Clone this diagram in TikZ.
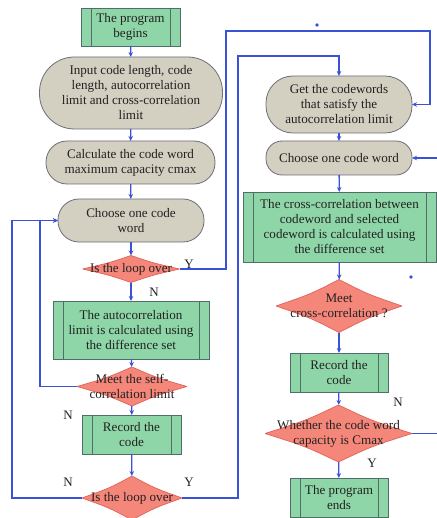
\documentclass[tikz,border=0pt]{standalone}
\usepackage{fontspec}
\setmainfont{Liberation Serif}
\usetikzlibrary{arrows.meta,calc}
\definecolor{lineblue}{HTML}{3A52D6}
\definecolor{boxgreen}{HTML}{8ED6A8}
\definecolor{boxgreenedge}{HTML}{4F6E6A}
\definecolor{tanfill}{HTML}{D3CFC1}
\definecolor{tanedge}{HTML}{6E6E78}
\definecolor{dfill}{HTML}{F5867A}
\definecolor{dedge}{HTML}{E0625A}
\definecolor{txt}{HTML}{222222}
\tikzset{
  base/.style={font=\fontsize{13.1}{15}\selectfont, text=txt, align=center, inner sep=0pt, outer sep=0pt},
  procbox/.style={base, draw=boxgreenedge, fill=boxgreen, line width=0.8pt, minimum width=#1,
    path picture={\draw[boxgreenedge,line width=0.8pt]
      ([xshift=10pt]path picture bounding box.north west) -- ([xshift=10pt]path picture bounding box.south west)
      ([xshift=-10pt]path picture bounding box.north east) -- ([xshift=-10pt]path picture bounding box.south east);}},
  tanbox/.style={base, draw=tanedge, fill=tanfill, line width=0.8pt, rounded corners=#1},
  decision/.style={base,
    path picture={
      \coordinate (pW) at (path picture bounding box.west);
      \coordinate (pE) at (path picture bounding box.east);
      \coordinate (pN) at (path picture bounding box.north);
      \coordinate (pS) at (path picture bounding box.south);
      \coordinate (pC) at (path picture bounding box.center);
      \path[fill=dfill, draw=dedge, line width=0.7pt]
        (pW) .. controls ($(pW)!0.5!(pN)!0.1!(pC)$) .. (pN)
             .. controls ($(pN)!0.5!(pE)!0.1!(pC)$) .. (pE)
             .. controls ($(pE)!0.5!(pS)!0.1!(pC)$) .. (pS)
             .. controls ($(pS)!0.5!(pW)!0.1!(pC)$) .. (pW) -- cycle;}},
  conn/.style={draw=lineblue, line width=1.3pt},
  arr/.style={conn, -{Stealth[length=5pt,width=4.5pt]}},
  yn/.style={font=\fontsize{13}{14}\selectfont, text=txt, inner sep=0pt}
}
\begin{document}
\begin{tikzpicture}[x=1pt,y=-1pt]
\fill[white] (0,0) rectangle (436,518);
\useasboundingbox (0,0) rectangle (436,518);
% left column
\node[procbox=99pt, minimum height=38pt] (begin) at (130.5,27) {The program\\begins};
\node[tanbox=35pt, minimum width=183pt, minimum height=72pt] (input) at (131,93) {Input code length, code\\length, autocorrelation\\limit and cross-correlation\\limit};
\node[tanbox=21pt, minimum width=169pt, minimum height=43pt] (calc) at (130.5,162.5) {Calculate the code word\\maximum capacity cmax};
\node[tanbox=21pt, minimum width=146pt, minimum height=43pt] (choose1) at (131,220.5) {Choose one code\\word};
\node[decision, minimum width=97pt, minimum height=27pt] (d1) at (131,269) {Is the loop over};
\node[procbox=156pt, minimum height=58pt] (auto) at (131,330) {The autocorrelation\\limit is calculated using\\the difference set};
\node[decision, minimum width=110pt, minimum height=39pt] (d2) at (132,386.5) {Meet the self-\\correlation limit};
\node[procbox=99pt, minimum height=39pt] (rec1) at (131.5,434.5) {Record the\\code};
\node[decision, minimum width=100pt, minimum height=44pt] (d3) at (132,498) {Is the loop over};
% right column
\node[tanbox=27pt, minimum width=146pt, minimum height=57pt] (get) at (339,104.5) {Get the codewords\\that satisfy the\\autocorrelation limit};
\node[tanbox=16pt, minimum width=146pt, minimum height=34pt] (choose2) at (339,158) {Choose one code word};
\node[procbox=193pt, minimum height=70pt] (cross) at (339.5,227) {The cross-correlation between\\codeword and selected\\codeword is calculated using\\the difference set};
\node[decision, minimum width=126pt, minimum height=53pt] (d4) at (339,306) {Meet\\cross-correlation ?};
\node[procbox=98pt, minimum height=39pt] (rec2) at (339,372.5) {Record the\\code};
\node[decision, minimum width=147pt, minimum height=57pt] (d5) at (338.5,433.5) {Whether the code word\\capacity is Cmax};
\node[procbox=98pt, minimum height=39pt] (end) at (339,497.5) {The program\\ends};
% labels
\node[yn] (y1) at (189,264) {Y};
\node[yn] (n1) at (154,292) {N};
\node[yn] (n2) at (68,415) {N};
\node[yn] (n3) at (68,482) {N};
\node[yn] (y2) at (189,482) {Y};
\node[yn] (n4) at (398,402) {N};
\node[yn] (y3) at (372,463) {Y};
% helper coordinates
\coordinate (a1) at (226,269);
\coordinate (a2) at (226,31);
\coordinate (a3) at (430,31);
\coordinate (a4) at (430,104.5);
\coordinate (b1) at (40,386.5);
\coordinate (b2) at (40,220.5);
\coordinate (c1) at (12,498);
\coordinate (c2) at (12,220.5);
\coordinate (e1) at (238,498);
\coordinate (e2) at (238,56);
\coordinate (e3) at (339,56);
\coordinate (f1) at (439,433.5);
\coordinate (f2) at (439,158);
% connectors left
\draw[arr] (begin) -- (input);
\draw[arr] (input) -- (calc);
\draw[arr] (calc) -- (choose1);
\draw[arr] (choose1) -- (d1);
\draw[arr] (d1) -- (auto);
\draw[arr] (auto) -- (d2);
\draw[arr] (d2) -- (rec1);
\draw[arr] (rec1) -- (d3);
\draw[arr] (d1.east) -- (a1) -- (a2) -- (a3) -- (a4) -- (get.east);
\draw[arr] (d2.west) -- (b1) -- (b2) -- (choose1.west);
\draw[arr] (d3.west) -- (c1) -- (c2) -- (choose1.west);
\draw[arr] (d3.east) -- (e1) -- (e2) -- (e3) -- (get.north);
% connectors right
\draw[arr] (get) -- (choose2);
\draw[arr] (choose2) -- (cross);
\draw[arr] (cross) -- (d4);
\draw[arr] (d4) -- (rec2);
\draw[arr] (rec2) -- (d5);
\draw[arr] (d5) -- (end);
\draw[arr] (d5.east) -- (f1) -- (f2) -- (choose2.east);
% stray marks
\fill[lineblue] (317,25) circle (1.8);
\fill[lineblue] (411,277) circle (1.8);
\end{tikzpicture}
\end{document}
